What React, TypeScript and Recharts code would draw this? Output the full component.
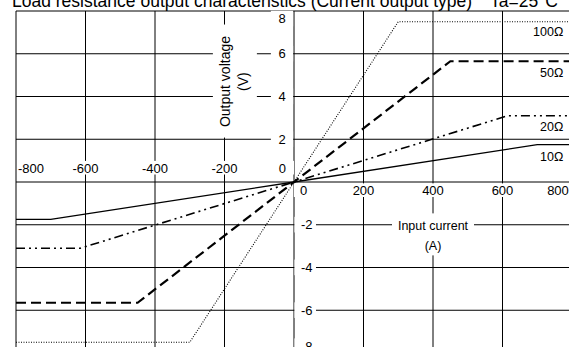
import React from "react";
import { LineChart, Line, XAxis, YAxis, CartesianGrid, ReferenceDot } from "recharts";

const GRID_CURRENT = [-800, -600, -400, -200, 0, 200, 400, 600, 800];
const GRID_VOLTAGE = [-8, -6, -4, -2, 0, 2, 4, 6, 8];

// breakpoints (input current A -> output voltage V) for each load resistance
const I_10 = [-800, -700, 0, 700, 800];
const V_10 = [-1.75, -1.75, 0, 1.75, 1.75];
const I_20 = [-800, -615, 0, 615, 800];
const V_20 = [-3.1, -3.1, 0, 3.1, 3.1];
const I_50 = [-800, -450, 0, 450, 800];
const V_50 = [-5.65, -5.65, 0, 5.65, 5.65];
const I_100 = [-800, -300, 0, 300, 800];
const V_100 = [-7.5, -7.5, 0, 7.5, 7.5];

const X_TICKS_UPPER = [-800, -600, -400, -200, 0];
const X_TICKS_LOWER = [0, 200, 400, 600, 800];
const Y_TICKS_LEFT = [8, 6, 4, 2];
const Y_TICKS_RIGHT = [-2, -4, -6, -8];

const LOAD_NAMES = ["100Ω", "50Ω", "20Ω", "10Ω"];
const LOAD_LABEL_V = [7.05, 5.1, 2.6, 1.2];

const FONT = "Arial, 'Liberation Sans', sans-serif";

const rows = (cur: number[], volt: number[]) => cur.map((a, i) => ({ a, v: volt[i] }));

function textWidth(s: string, fs: number) {
  let w = 0;
  for (const ch of s) w += ch === "-" ? 0.333 : ch === "Ω" ? 0.768 : 0.556;
  return w * fs;
}

type BoxOpts = {
  dx?: number;
  dy?: number;
  anchor?: "start" | "middle" | "end";
  size?: number;
  padL?: number;
  padR?: number;
  padY?: number;
  bg?: boolean;
};

// text label with a white box behind it, so grid lines are cut around it
const boxed = (text: string, o: BoxOpts) => (p: any) => {
  const fs = o.size ?? 13;
  const x = p.cx + (o.dx ?? 0);
  const base = p.cy + (o.dy ?? 0);
  const w = textWidth(text, fs);
  const anchor = o.anchor ?? "middle";
  const left = anchor === "start" ? x : anchor === "end" ? x - w : x - w / 2;
  const padL = o.padL ?? 3;
  const padR = o.padR ?? 3;
  const padY = o.padY ?? 2;
  return (
    <g>
      {o.bg !== false && (
        <rect
          x={left - padL}
          y={base - fs * 0.74 - padY}
          width={w + padL + padR}
          height={fs * 0.74 + 2 * padY}
          fill="#fff"
        />
      )}
      <text x={x} y={base} textAnchor={anchor} fontSize={fs} fontFamily={FONT} fill="#000">
        {text}
      </text>
    </g>
  );
};

const yAxisTitle = (p: any) => {
  const cx = p.cx;
  const cy = p.cy;
  return (
    <g>
      <rect x={cx - 21} y={cy - 57} width={44} height={113} fill="#fff" />
      <text
        x={cx - 9}
        y={cy}
        transform={`rotate(-90 ${cx - 9} ${cy})`}
        textAnchor="middle"
        dominantBaseline="central"
        fontSize={14}
        fontFamily={FONT}
      >
        Output voltage
      </text>
      <text
        x={cx + 9}
        y={cy}
        transform={`rotate(-90 ${cx + 9} ${cy})`}
        textAnchor="middle"
        dominantBaseline="central"
        fontSize={14}
        fontFamily={FONT}
      >
        (V)
      </text>
    </g>
  );
};

const xAxisTitle = (p: any) => {
  const cx = p.cx;
  const cy = p.cy;
  return (
    <g>
      <rect x={cx - 41} y={cy - 21} width={82} height={42} fill="#fff" />
      <text x={cx} y={cy - 4} textAnchor="middle" fontSize={12.5} fontFamily={FONT}>
        Input current
      </text>
      <text x={cx} y={cy + 16} textAnchor="middle" fontSize={12.5} fontFamily={FONT}>
        (A)
      </text>
    </g>
  );
};

export default function App() {
  return (
    <div
      style={{
        position: "absolute",
        left: 0,
        top: 0,
        width: 569,
        height: 347,
        overflow: "hidden",
        background: "#fff",
      }}
    >
      <svg width={569} height={12} style={{ position: "absolute", left: 0, top: 0 }}>
        <text x={12} y={7} fontSize={17.5} fontFamily={FONT}>
          Load resistance output characteristics (Current output type)
        </text>
        <text x={490} y={7} fontSize={17.5} fontFamily={FONT}>
          Ta=25°C
        </text>
      </svg>
      <div style={{ position: "absolute", left: 0, top: 0 }}>
        <LineChart width={580} height={360} margin={{ top: 11, right: 8, bottom: 7, left: 16 }}>
          <CartesianGrid stroke="#000" strokeWidth={1} />
          <XAxis
            dataKey="a"
            type="number"
            domain={[-800, 800]}
            ticks={GRID_CURRENT}
            allowDataOverflow
            hide
          />
          <YAxis type="number" domain={[-8, 8]} ticks={GRID_VOLTAGE} allowDataOverflow hide />

          {X_TICKS_UPPER.map((v) => (
            <ReferenceDot
              key={`xu${v}`}
              x={v}
              y={0}
              ifOverflow="visible"
              shape={boxed(
                String(v),
                v === -800
                  ? { anchor: "start", dx: 2, dy: -9.5, padL: 0 }
                  : v === 0
                  ? { anchor: "end", dx: -8, dy: -9.5, padL: 4, padR: 8 }
                  : { dy: -9.5 }
              )}
            />
          ))}
          {X_TICKS_LOWER.map((v) => (
            <ReferenceDot
              key={`xl${v}`}
              x={v}
              y={0}
              ifOverflow="visible"
              shape={boxed(
                String(v),
                v === 0 ? { dx: 9.5, dy: 13, padL: 6 } : v === 800 ? { dx: -14, dy: 13 } : { dy: 13 }
              )}
            />
          ))}
          {Y_TICKS_LEFT.map((v) => (
            <ReferenceDot
              key={`yl${v}`}
              x={0}
              y={v}
              ifOverflow="visible"
              shape={boxed(String(v), {
                dx: -12,
                dy: v === 8 ? 12.4 : 4.7,
                padL: 7.5,
                padR: 7.5,
                padY: 3,
              })}
            />
          ))}
          {Y_TICKS_RIGHT.map((v) => (
            <ReferenceDot
              key={`yr${v}`}
              x={0}
              y={v}
              ifOverflow="visible"
              shape={boxed(String(v), {
                dx: 12.7,
                dy: v === -8 ? -2 : 4.7,
                padL: 6.5,
                padR: 3.5,
                padY: 3,
              })}
            />
          ))}
          {LOAD_NAMES.map((name, i) => (
            <ReferenceDot
              key={name}
              x={800}
              y={LOAD_LABEL_V[i]}
              ifOverflow="visible"
              shape={boxed(name, { anchor: "end", dx: -8.7, dy: 4.5, size: 12.5, bg: false })}
            />
          ))}
          <ReferenceDot x={-173} y={4.7} ifOverflow="visible" shape={yAxisTitle} />
          <ReferenceDot x={400} y={-2.45} ifOverflow="visible" shape={xAxisTitle} />

          <Line
            data={rows(I_10, V_10)}
            dataKey="v"
            type="linear"
            stroke="#000"
            strokeWidth={1.3}
            dot={false}
            activeDot={false}
            isAnimationActive={false}
          />
          <Line
            data={rows(I_20, V_20)}
            dataKey="v"
            type="linear"
            stroke="#000"
            strokeWidth={1.6}
            strokeDasharray="9 4 2 4 2 4"
            dot={false}
            activeDot={false}
            isAnimationActive={false}
          />
          <Line
            data={rows(I_50, V_50)}
            dataKey="v"
            type="linear"
            stroke="#000"
            strokeWidth={2.2}
            strokeDasharray="10 5"
            dot={false}
            activeDot={false}
            isAnimationActive={false}
          />
          <Line
            data={rows(I_100, V_100)}
            dataKey="v"
            type="linear"
            stroke="#000"
            strokeWidth={1.1}
            strokeDasharray="1 1.5"
            dot={false}
            activeDot={false}
            isAnimationActive={false}
          />
        </LineChart>
      </div>
    </div>
  );
}
